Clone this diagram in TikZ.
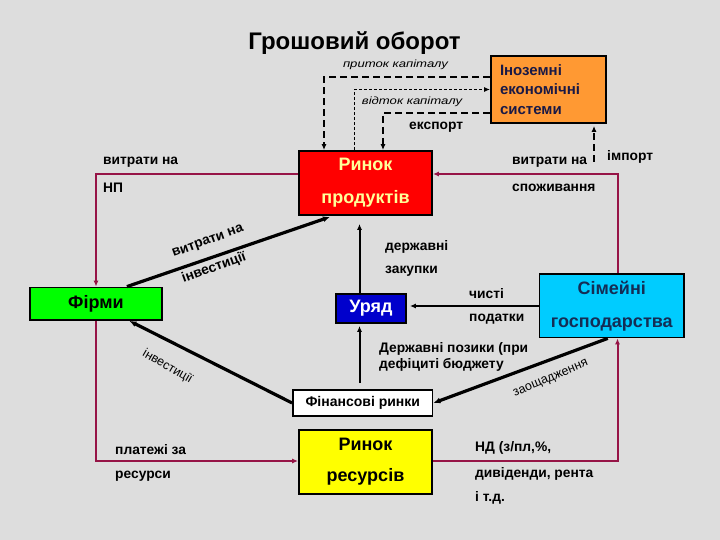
\documentclass[tikz,border=0pt]{standalone}
\usepackage{fontspec}
\setmainfont{Liberation Sans}
\usetikzlibrary{arrows.meta,calc}
\definecolor{bg}{RGB}{221,221,221}
\definecolor{maroon}{RGB}{150,20,70}
\definecolor{orangebox}{RGB}{255,153,51}
\definecolor{redbox}{RGB}{255,0,0}
\definecolor{greenbox}{RGB}{0,255,0}
\definecolor{bluebox}{RGB}{0,0,204}
\definecolor{cyanbox}{RGB}{0,204,255}
\definecolor{yellowbox}{RGB}{255,255,0}
\definecolor{paleyellow}{RGB}{255,255,153}
\definecolor{navytext}{RGB}{20,45,85}
\definecolor{fesText}{RGB}{25,25,70}
\begin{document}
\begin{tikzpicture}[x=1pt,y=-1pt,
  box/.style={draw=black, line width=1.8pt, inner sep=0pt, align=center},
  lab/.style={font=\fontsize{13.8}{16}\selectfont\bfseries, inner sep=0pt, anchor=west},
  ital/.style={font=\fontsize{10.5}{12}\selectfont\itshape, inner sep=0pt},
  thin/.style={font=\fontsize{12.5}{14}\selectfont, inner sep=0pt},
  arr/.style={-{Latex[length=6pt,width=5pt]}, line width=2pt, black},
  thickarr/.style={-{Latex[length=7pt,width=6pt]}, line width=3.2pt, black},
  loop/.style={line width=2pt, draw=maroon},
  looparr/.style={loop, -{Latex[length=6pt,width=5pt]}},
  dashA/.style={line width=2pt, dash pattern=on 7pt off 4pt},
  dashB/.style={line width=1.3pt, dash pattern=on 3pt off 2pt}
]
\fill[bg] (0,0) rectangle (720,540);
\useasboundingbox (0,0) rectangle (720,540);

% title
\node[font=\fontsize{24}{28}\selectfont\bfseries, inner sep=0pt] (title) at (354.5,43) {Грошовий оборот};

% boxes
\node[box, fill=orangebox, minimum width=115pt, minimum height=67pt, text width=97pt, align=left,
      font=\fontsize{15}{19.5}\selectfont\bfseries, text=fesText] (fes) at (548.5,89.5)
      {Іноземні\\економічні\\системи};
\node[box, fill=redbox, minimum width=133pt, minimum height=64pt,
      font=\fontsize{18}{33}\selectfont\bfseries, text=paleyellow] (rp) at (365.5,183) {Ринок\\продуктів};
\node[box, fill=greenbox, minimum width=132pt, minimum height=32.5pt,
      font=\fontsize{18}{22}\selectfont\bfseries] (firms) at (96,303.75) {Фірми};
\node[box, fill=bluebox, minimum width=70pt, minimum height=29pt,
      font=\fontsize{18}{22}\selectfont\bfseries, text=white] (gov) at (371,308.5) {Уряд};
\node[box, fill=cyanbox, minimum width=144.5pt, minimum height=63.5pt,
      font=\fontsize{18}{33}\selectfont\bfseries, text=navytext] (hh) at (611.75,305.75) {Сімейні\\господарства};
\node[box, fill=white, minimum width=139.5pt, minimum height=26pt,
      font=\fontsize{14}{18}\selectfont\bfseries] (fin) at (362.75,403) {Фінансові ринки};
\node[box, fill=yellowbox, minimum width=133pt, minimum height=64pt,
      font=\fontsize{18}{31}\selectfont\bfseries] (rr) at (365.5,462) {Ринок\\ресурсів};

% foreign flows
\coordinate (p1) at (324,77.5);
\coordinate (v1) at (354.5,89.5);
\coordinate (e1) at (383,113);
\coordinate (i1) at (594,162);
\draw[dashA, -{Latex[length=6pt,width=5pt]}] (fes.west |- p1) -- (p1) -- (rp.north -| p1);
\draw[dashB, -{Latex[length=6pt,width=5pt]}] (rp.north -| v1) -- (v1) -- (fes.west |- v1);
\draw[dashA, -{Latex[length=6pt,width=5pt]}] (fes.west |- e1) -- (e1) -- (rp.north -| e1);
\draw[dashA, -{Latex[length=6pt,width=5pt]}, shorten >=2pt] (i1) -- (fes.south -| i1);

% maroon loop
\coordinate (c1) at (96,174);
\coordinate (c2) at (96,461);
\coordinate (c3) at (617.5,461);
\coordinate (c4) at (617.5,174);
\draw[looparr] (rp.west |- c1) -- (c1) -- (firms.north);
\draw[looparr] (firms.south) -- (c2) -- (rr.west |- c2);
\draw[looparr] (rr.east |- c3) -- (c3) -- (hh.south -| c3);
\draw[looparr] (hh.north -| c4) -- (c4) -- (rp.east |- c4);

% government flows
\coordinate (gx) at (359.5,306);
\draw[arr, shorten >=8pt] (gov.north -| gx) -- (rp.south -| gx);
\draw[arr, shorten <=6pt, shorten >=2pt] (fin.north -| gx) -- (gov.south -| gx);
\draw[arr, shorten >=3pt] (hh.west |- gx) -- (gov.east |- gx);

% financial flows
\draw[thickarr] ($(hh.south)+(-4,0)$) -- (fin.east);
\draw[thickarr] (fin.west) -- ($(firms.south east)+(-33.5,0)$);
\draw[thickarr] ($(firms.north east)+(-36,0)$) -- ($(rp.south)+(-35.5,1)$);

% labels
\node[ital] (lpr) at (395.5,65) {\scalebox{1.25}[1]{приток капіталу}};
\node[ital] (lvid) at (412,101.5) {\scalebox{1.25}[1]{відток капіталу}};
\node[lab] (lexp) at (409,127) {експорт};
\node[lab] (limp) at (607,157) {імпорт};
\node[lab] (l1) at (103,162) {витрати на};
\node[lab] (l2) at (103,188) {НП};
\node[lab] (l3) at (512,162) {витрати на};
\node[lab] (l4) at (512,188) {споживання};
\node[lab] (l5) at (385,247) {державні};
\node[lab] (l6) at (385,271) {закупки};
\node[lab] (l7) at (469,294) {чисті};
\node[lab] (l8) at (469,319.5) {податки};
\node[lab, align=left] (l9) at (379,357) {Державні позики (при\\дефіциті бюджету};
\node[lab] (l10) at (115,450) {платежі за};
\node[lab] (l11) at (115,476) {ресурси};
\node[lab] (l12) at (475,448) {НД (з/пл,\%,};
\node[lab] (l13) at (475,473.5) {дивіденди, рента};
\node[lab] (l14) at (475,498) {і т.д.};
\node[lab, anchor=center, rotate=20] (l15a) at (208,242) {витрати на};
\node[lab, anchor=center, rotate=20] (l15b) at (214,268) {інвестиції};
\node[thin, rotate=-30] (l16) at (167.6,366.7) {інвестиції};
\node[thin, rotate=23] (l17) at (551,379) {заощадження};
\end{tikzpicture}
\end{document}
